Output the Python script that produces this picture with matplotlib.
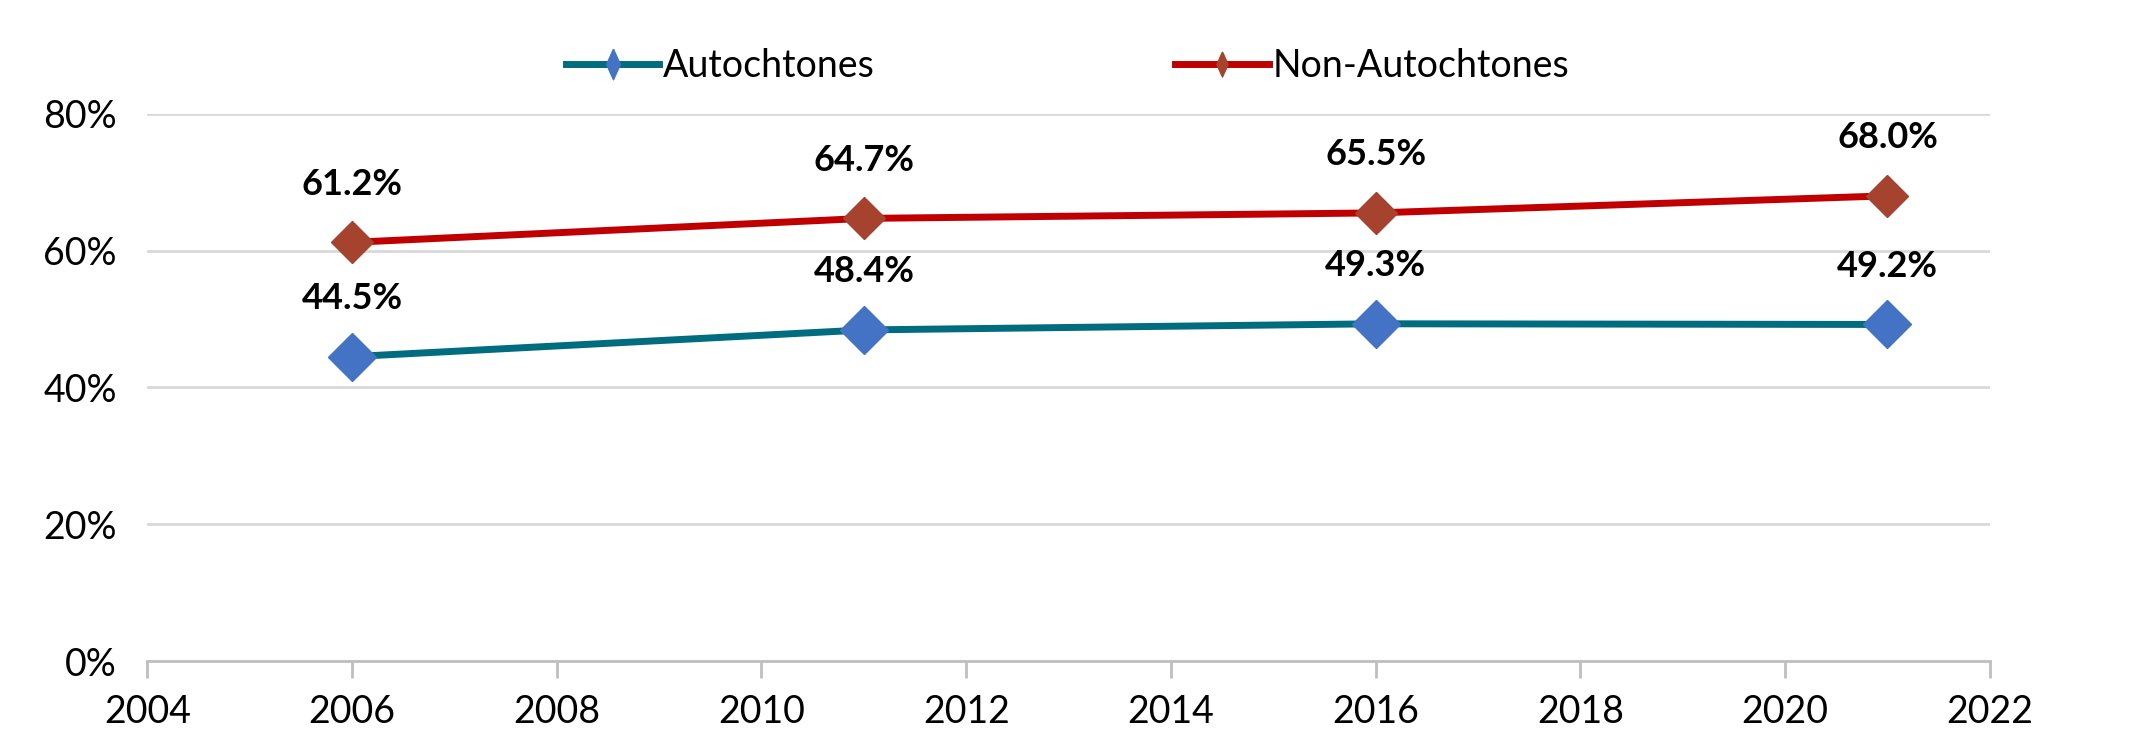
import matplotlib
matplotlib.use("Agg")
import matplotlib.pyplot as plt
from matplotlib.ticker import PercentFormatter, MultipleLocator
from matplotlib.lines import Line2D

years = [2006, 2011, 2016, 2021]
autochtones = [44.5, 48.4, 49.3, 49.2]
non_autochtones = [61.2, 64.7, 65.5, 68.0]
series_names = ["Autochtones", "Non-Autochtones"]

plt.rcParams['font.family'] = ['Lato', 'DejaVu Sans']

fig = plt.figure(figsize=(21.35, 7.53), dpi=100)
ax = fig.add_axes([0.069, 0.122, 0.863, 0.727])

ax.plot(years, autochtones, color='#006C80', lw=5, marker='D', ms=24,
        mfc='#4472C4', mec='#4472C4', zorder=3)
ax.plot(years, non_autochtones, color='#C00000', lw=5, marker='D', ms=21,
        mfc='#A5432E', mec='#A5432E', zorder=3)

for xs, ys in [(years, autochtones), (years, non_autochtones)]:
    for x, y in zip(xs, ys):
        ax.annotate(f"{y:.1f}%", (x, y), xytext=(0, 42), textcoords='offset points',
                    ha='center', va='center', fontsize=26, fontweight='bold', color='black')

ax.set_xlim(2004, 2022)
ax.set_ylim(0, 80)
ax.xaxis.set_major_locator(MultipleLocator(2))
ax.yaxis.set_major_locator(MultipleLocator(20))
ax.yaxis.set_major_formatter(PercentFormatter(decimals=0))

ax.grid(axis='y', color='#D9D9D9', lw=2)
ax.set_axisbelow(True)
for s in ['top', 'right', 'left']:
    ax.spines[s].set_visible(False)
ax.spines['bottom'].set_color('#BFBFBF')
ax.spines['bottom'].set_linewidth(2)
ax.tick_params(axis='x', direction='out', length=12, width=2, color='#BFBFBF',
               labelsize=27, pad=12)
ax.tick_params(axis='y', length=0, labelsize=27, pad=22)

narrow_diamond = [(0, 1), (0.45, 0), (0, -1), (-0.45, 0), (0, 1)]
handles = [
    Line2D([], [], color='#006C80', lw=5, marker=narrow_diamond, ms=22,
           mfc='#4472C4', mec='#4472C4'),
    Line2D([], [], color='#C00000', lw=5, marker=narrow_diamond, ms=18,
           mfc='#A5432E', mec='#A5432E'),
]
fig.legend(handles, series_names, loc='center', bbox_to_anchor=(0.5, 0.912), ncol=2,
           frameon=False, fontsize=27, columnspacing=8, handlelength=2.5,
           handletextpad=0.1)

fig.savefig("out.png", dpi=100)
